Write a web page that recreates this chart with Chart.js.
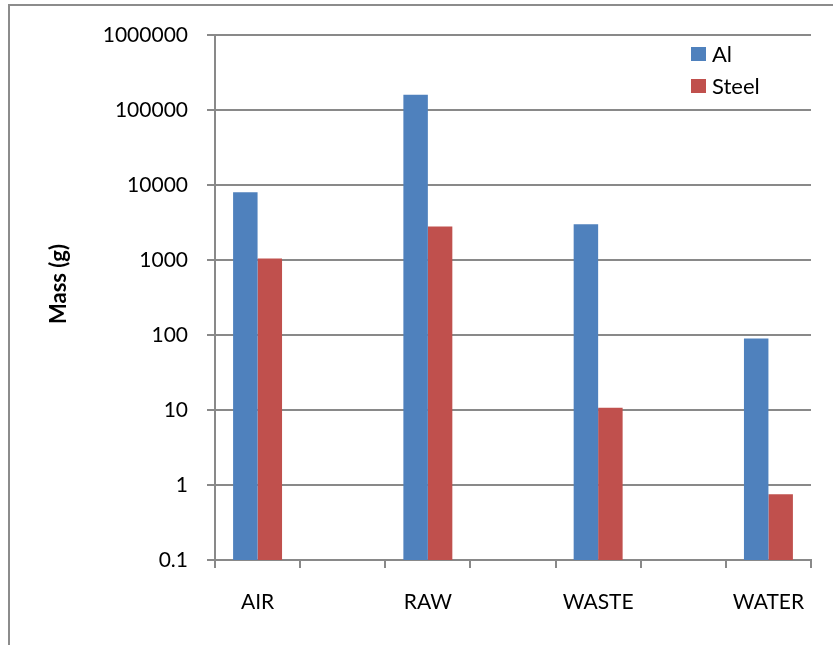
<!DOCTYPE html>
<html>
<head>
<meta charset="utf-8">
<script src="https://cdn.jsdelivr.net/npm/chart.js@4"></script>
<style>
  html, body { margin: 0; padding: 0; background: #fff; overflow: hidden; }
  #wrap { position: relative; width: 833px; height: 645px; overflow: hidden; }
  #frame { position: absolute; left: 8px; top: 4px; width: 900px; height: 900px;
           border: 2px solid #8c8c8c; box-sizing: border-box; }
  canvas { position: absolute; left: 0; top: 0; }
</style>
</head>
<body>
<div id="wrap">
  <div id="frame"></div>
  <canvas id="chart" width="833" height="645"></canvas>
</div>
<script>
// Emission categories; blank slots keep the wide gaps between groups
const categories = ['AIR', '', 'RAW', '', 'WASTE', '', 'WATER'];
// Mass in grams per category
const aluminium = [8000, null, 160000, null, 3000, null, 90];
const steel = [1050, null, 2800, null, 10.7, null, 0.75];
// Decades shown on the logarithmic axis
const yTicks = [0.1, 1, 10, 100, 1000, 10000, 100000, 1000000];
const seriesNames = ['Al', 'Steel'];
const axisTitle = 'Mass (g)';

const FONT = 'Lato';
const GRID = '#898989';

// Legend inside the plot and rotated axis title
const overlay = {
  id: 'overlay',
  afterDraw(chart) {
    const ctx = chart.ctx;
    const area = chart.chartArea;
    ctx.save();
    ctx.font = '22px ' + FONT;
    ctx.textAlign = 'left';
    ctx.textBaseline = 'middle';
    chart.data.datasets.forEach((ds, i) => {
      const y = area.top + 19 + i * 32;
      const x = area.right - 120;
      ctx.fillStyle = ds.backgroundColor;
      ctx.fillRect(x, y - 7, 15, 14);
      ctx.fillStyle = '#000';
      ctx.fillText(ds.label, x + 21, y + 1);
    });
    ctx.translate(59, 284);
    ctx.rotate(-Math.PI / 2);
    ctx.font = 'bold 22px ' + FONT;
    ctx.textAlign = 'center';
    ctx.fillStyle = '#000';
    ctx.fillText(axisTitle, 0, 0);
    ctx.restore();
  }
};

new Chart(document.getElementById('chart'), {
  type: 'bar',
  data: {
    labels: categories,
    datasets: [
      { label: seriesNames[0], data: aluminium, backgroundColor: '#4F81BD',
        categoryPercentage: 0.575, barPercentage: 1.0, skipNull: false },
      { label: seriesNames[1], data: steel, backgroundColor: '#C0504D',
        categoryPercentage: 0.575, barPercentage: 1.0, skipNull: false }
    ]
  },
  options: {
    responsive: false,
    animation: false,
    layout: { padding: { left: 0, top: 35, right: 22, bottom: 0 } },
    plugins: { legend: { display: false }, tooltip: { enabled: false } },
    scales: {
      x: {
        grid: { drawOnChartArea: false, drawTicks: true, tickLength: 8,
                color: GRID, lineWidth: 2, offset: true },
        border: { color: GRID, width: 2 },
        ticks: { font: { family: FONT, size: 21 }, color: '#000', padding: 22,
                 maxRotation: 0, autoSkip: false },
        afterFit(scale) { scale.height = 85; }
      },
      y: {
        type: 'logarithmic',
        min: 0.1,
        max: 1000000,
        afterBuildTicks(scale) { scale.ticks = yTicks.map(v => ({ value: v })); },
        grid: { color: GRID, lineWidth: 2, drawTicks: true, tickLength: 8 },
        border: { color: GRID, width: 2 },
        ticks: { font: { family: FONT, size: 21 }, color: '#000', padding: 19,
                 callback: (v) => String(v) },
        afterFit(scale) { scale.width = 215; }
      }
    }
  },
  plugins: [overlay]
});
</script>
</body>
</html>
